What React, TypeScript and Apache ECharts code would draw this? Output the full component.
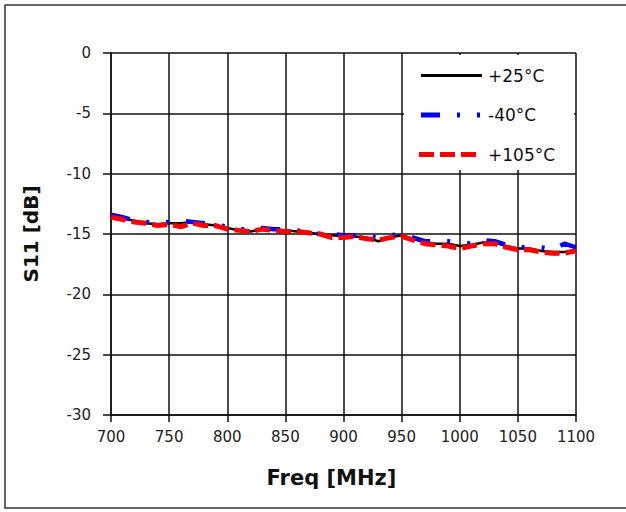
import React, { useEffect, useRef } from "react";
import * as echarts from "echarts";

const freqs = [700,710,720,730,740,750,760,770,780,790,800,810,820,830,840,850,860,870,880,890,900,910,920,930,940,950,960,970,980,990,1000,1010,1020,1030,1040,1050,1060,1070,1080,1090,1100];
const s25 = [-13.5,-13.7,-13.9,-14.1,-14.2,-14.1,-14.1,-14.0,-14.2,-14.3,-14.5,-14.7,-14.8,-14.6,-14.6,-14.7,-14.8,-14.9,-15.0,-15.1,-15.2,-15.2,-15.3,-15.6,-15.3,-15.1,-15.4,-15.7,-15.8,-15.8,-16.0,-15.9,-15.7,-15.7,-16.0,-16.2,-16.2,-16.4,-16.5,-16.5,-16.3];
const sM40 = [-13.4,-13.6,-13.9,-14.0,-14.1,-14.0,-13.9,-14.0,-14.1,-14.2,-14.4,-14.6,-14.6,-14.5,-14.6,-14.6,-14.7,-14.9,-15.0,-15.0,-15.1,-15.1,-15.2,-15.3,-15.1,-15.0,-15.3,-15.6,-15.6,-15.6,-15.7,-15.8,-15.5,-15.6,-15.9,-16.1,-16.1,-16.1,-16.3,-15.8,-16.1];
const s105 = [-13.6,-13.8,-14.0,-14.1,-14.3,-14.2,-14.4,-14.1,-14.3,-14.3,-14.6,-14.7,-14.8,-14.6,-14.7,-14.8,-14.8,-14.9,-15.0,-15.3,-15.3,-15.2,-15.4,-15.5,-15.3,-15.2,-15.5,-15.8,-15.9,-16.0,-16.2,-16.0,-15.8,-15.8,-16.1,-16.3,-16.3,-16.5,-16.6,-16.6,-16.4];
const seriesNames = ["+25°C", "-40°C", "+105°C"];
const seriesColors = ["#000000", "#0000ff", "#ff0000"];

const FONT = "DejaVu Sans";

export default function App() {
  const ref = useRef<HTMLDivElement>(null);
  useEffect(() => {
    if (!ref.current) return;
    const chart = echarts.init(ref.current, null, { renderer: "svg" });
    const pair = (ys: number[]) => freqs.map((f, i) => [f, ys[i]]);
    const legendRows = [75.5, 115, 154.5];
    const legendDash: any[] = [null, [19, 17, 3, 17, 3, 100], [15, 6]];
    const legendWidths = [3, 5, 5];
    const legendStarts = [421, 421, 419];
    const legendEnds = [482, 481, 477];
    const legendGraphics: any[] = [
      {
        type: "rect",
        shape: { x: 404, y: 55, width: 170, height: 115 },
        style: { fill: "#ffffff", stroke: "none" },
        z: 10,
      },
    ];
    seriesNames.forEach((n, i) => {
      legendGraphics.push({
        type: "line",
        shape: { x1: legendStarts[i], y1: legendRows[i], x2: legendEnds[i], y2: legendRows[i] },
        style: { stroke: seriesColors[i], lineWidth: legendWidths[i], lineDash: legendDash[i] || undefined },
        z: 11,
      });
      legendGraphics.push({
        type: "text",
        style: {
          text: n,
          x: 488,
          y: legendRows[i],
          font: `17px "${FONT}"`,
          fill: "#111",
          verticalAlign: "middle",
          align: "left",
        },
        z: 11,
      });
    });
    chart.setOption({
      animation: false,
      backgroundColor: "#ffffff",
      grid: { left: 111, top: 53, width: 465, height: 362 },
      graphic: [
        {
          type: "rect",
          shape: { x: 5, y: 5, width: 700, height: 503 },
          style: { fill: "none", stroke: "#333", lineWidth: 1.5 },
          z: 0,
        },
        ...legendGraphics,
      ],
      xAxis: {
        type: "value",
        min: 700,
        max: 1100,
        interval: 50,
        name: "Freq [MHz]",
        nameLocation: "middle",
        nameGap: 52,
        nameTextStyle: { fontFamily: FONT, fontSize: 21, fontWeight: "bold", color: "#111", padding: [0, 24, 0, 0] },
        axisLine: { show: true, onZero: false, lineStyle: { color: "#111", width: 1.5 } },
        axisTick: { show: true, inside: false, length: 7, lineStyle: { color: "#111", width: 1.5 } },
        axisLabel: { fontFamily: FONT, fontSize: 15, color: "#222", margin: 14, formatter: (v: number) => String(v) },
        splitLine: { show: true, lineStyle: { color: "#111", width: 1.5 } },
      },
      yAxis: {
        type: "value",
        min: -30,
        max: 0,
        interval: 5,
        name: "S11 [dB]",
        nameLocation: "middle",
        nameRotate: 90,
        nameGap: 70,
        nameTextStyle: { fontFamily: FONT, fontSize: 20, fontWeight: "bold", color: "#111" },
        axisLine: { show: true, lineStyle: { color: "#111", width: 1.5 } },
        axisTick: { show: true, inside: false, length: 8, lineStyle: { color: "#111", width: 1.5 } },
        axisLabel: { fontFamily: FONT, fontSize: 15, color: "#222", margin: 20, formatter: (v: number) => String(v) },
        splitLine: { show: true, lineStyle: { color: "#111", width: 1.5 } },
      },
      series: [
        {
          name: seriesNames[0],
          type: "line",
          data: pair(s25),
          symbol: "none",
          lineStyle: { color: seriesColors[0], width: 2.5, type: "solid" },
          itemStyle: { color: seriesColors[0] },
          z: 2,
        },
        {
          name: seriesNames[1],
          type: "line",
          data: pair(sM40),
          symbol: "none",
          lineStyle: { color: seriesColors[1], width: 4.5, type: [19, 17, 3, 17, 3, 17] },
          itemStyle: { color: seriesColors[1] },
          z: 3,
        },
        {
          name: seriesNames[2],
          type: "line",
          data: pair(s105),
          symbol: "none",
          lineStyle: { color: seriesColors[2], width: 5, type: [15, 6] },
          itemStyle: { color: seriesColors[2] },
          z: 4,
        },
      ],
    });
    return () => chart.dispose();
  }, []);
  return (
    <div
      ref={ref}
      style={{ position: "fixed", left: 0, top: 0, width: 626, height: 512, background: "#fff" }}
    />
  );
}
